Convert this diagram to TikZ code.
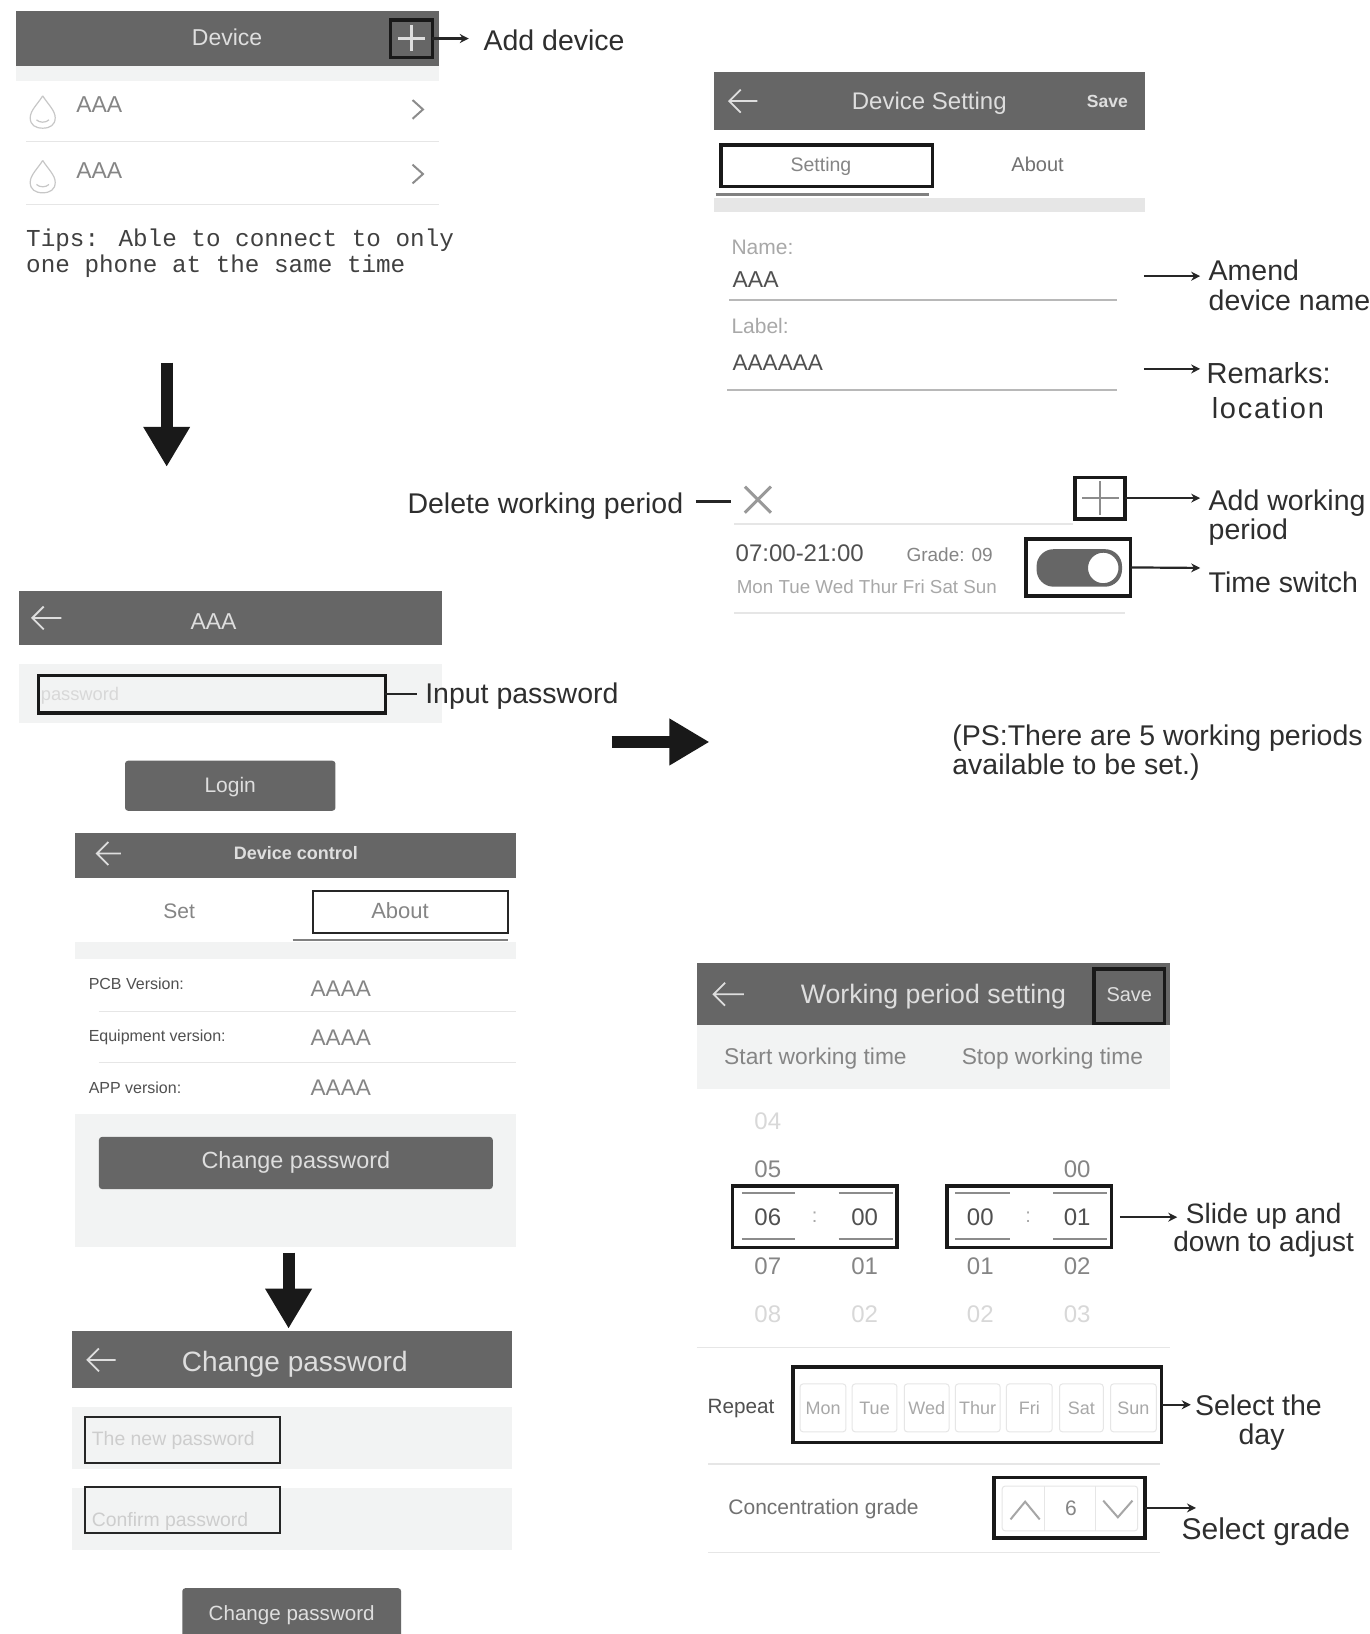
\documentclass[tikz,border=0pt]{standalone}
\usepackage{fontspec}
\setmainfont{Liberation Sans}
\newfontfamily\monof{Liberation Mono}
\usetikzlibrary{arrows.meta}
\definecolor{hdr}{HTML}{666666}
\definecolor{band}{HTML}{F2F3F3}
\definecolor{sepl}{HTML}{E6E6E6}
\definecolor{ink}{HTML}{2E2E2E}
\definecolor{wtxt}{HTML}{DEDEDE}
\definecolor{midt}{HTML}{858585}
\definecolor{lowt}{HTML}{A8A8A8}
\definecolor{faint}{HTML}{D8D8D8}
\definecolor{darkt}{HTML}{505050}
\newcommand\fs[1]{\fontsize{#1}{#1}\selectfont}
% \ubox{style}{name}{x1}{y1}{x2}{y2}{text}
\newcommand\ubox[7]{%
  \pgfmathsetmacro\uw{(#5-#3)*1.0418}%
  \pgfmathsetmacro\uh{(#6-#4)*1.0421}%
  \pgfmathsetmacro\ucx{(#3+#5)/2}%
  \pgfmathsetmacro\ucy{(#4+#6)/2}%
  \node[inner sep=0pt,outer sep=0pt,minimum width=\uw pt,minimum height=\uh pt,#1] (#2) at (\ucx,\ucy) {#7};}
\newcommand\backarr[3]{%
  \draw[backa] (#2,#3) -- (#1,#3) ++(11,-11) -- (#1,#3) -- ++(11,11);}
\tikzset{
  x=1.0418pt, y=-1.0421pt,
  fz/.style={font=\fs{#1},yshift={-(0.36*#1-3)*1pt}},
  fzb/.style={font=\bfseries\fs{#1},yshift={-(0.36*#1-3)*1pt}},
  fzm/.style={font=\monof\fs{#1},yshift={-(0.36*#1-3.5)*1pt}},
  header/.style={fill=hdr},
  bandbox/.style={fill=band},
  blackbox/.style={draw=black!90,line width=3.5pt},
  thinbox/.style={draw=black!85,line width=2pt},
  btn/.style={fill=hdr,rounded corners=3pt},
  cell/.style={draw=sepl,line width=1pt,rounded corners=3pt},
  conn/.style={draw=black!85,line width=2.2pt,-{Stealth[length=9pt,width=9pt]}},
  plainconn/.style={draw=black!85,line width=2.5pt},
  bigarrow/.style={draw=black!90,line width=12pt,-{Triangle[length=40pt,width=44pt]}},
  backa/.style={draw=wtxt,line width=1.8pt},
  sep/.style={draw=sepl,line width=1.5pt},
  fieldline/.style={draw=black!28,line width=2pt},
  tabline/.style={draw=black!50,line width=3pt},
  drop/.style={draw=black!22,line width=1.2pt},
  chev/.style={draw=black!45,line width=2pt},
  glyph/.style={draw=black!45,line width=2pt},
  callout/.style={anchor=mid west,inner sep=0pt,text=ink,fz=#1},
  callout/.default=28.5,
  calloutc/.style={anchor=mid,inner sep=0pt,text=ink,fz=#1},
  calloutc/.default=28.5,
  txtw/.style={anchor=mid west,inner sep=0pt},
  txtc/.style={anchor=mid,inner sep=0pt},
}
\begin{document}
\begin{tikzpicture}
\useasboundingbox (0,0) rectangle (1315,1568);
\fill[white] (0,0) rectangle (1315,1568);

%% ---------- Panel 1: Device
\ubox{header}{hdrA}{15}{11}{421}{63}{}
\ubox{fill=band}{bandA}{15}{63}{421}{78}{}
\node[txtc,text=wtxt,fz=23] (tDevice) at (218,36) {Device};
\ubox{blackbox}{addbox}{375}{19}{415}{55}{}
\draw[draw=wtxt,line width=3pt] (395,24) -- (395,49) (382,36.5) -- (408,36.5);
\coordinate (addEnd) at (450,37);
\draw[conn] (addbox.east) -- (addEnd);
\node[callout] (lAdd) at (464,39) {Add device};
% rows
\foreach \yy/\nm in {108/a,170/b}{
  \draw[drop] (41,\yy-16) .. controls (36,\yy-8) and (29,\yy-2) .. (29,\yy+5)
     .. controls (29,\yy+12) and (34,\yy+15) .. (41,\yy+15)
     .. controls (48,\yy+15) and (53,\yy+12) .. (53,\yy+5)
     .. controls (53,\yy-2) and (46,\yy-8) .. (41,\yy-16);
  \draw[drop] (35,\yy+7) .. controls (38,\yy+10) and (44,\yy+10) .. (47,\yy+7);
}
\node[txtw,text=midt,fz=23] (r1) at (73,100) {AAA};
\node[txtw,text=midt,fz=23] (r2) at (73,164) {AAA};
\draw[chev] (396,96) -- (406,105) -- (396,114);
\draw[chev] (396,158) -- (406,167) -- (396,176);
\draw[sep] (25,136) -- (421,136);
\draw[sep] (25,196) -- (421,196);
\node[txtw,text=darkt!80!black,fzm=24.3] (tip1) at (25,229) {Tips: Able to connect to only};
\node[txtw,text=darkt!80!black,fzm=24.3] (tip2) at (25,254) {one phone at the same time};

%% big arrows
\coordinate (b1s) at (160,348); \coordinate (b1e) at (160,448);
\draw[bigarrow] (b1s) -- (b1e);
\coordinate (b2s) at (587,712); \coordinate (b2e) at (681,712);
\draw[bigarrow] (b2s) -- (b2e);
\coordinate (b3s) at (277,1202); \coordinate (b3e) at (277,1275);
\draw[bigarrow] (b3s) -- (b3e);

%% ---------- Panel 2: login
\ubox{header}{hdrB}{18}{567}{424}{619}{}
\backarr{31}{59}{593}
\node[txtc,text=wtxt,fz=23] (tAAA) at (205,596) {AAA};
\ubox{fill=band}{bandB}{18}{637}{424}{694}{}
\node[txtw,text=faint,fz=18.3] (tPw) at (39,666) {password};
\ubox{blackbox}{pwbox}{37}{648}{370}{684}{}
\coordinate (pwEnd) at (400,666);
\draw[plainconn] (pwbox.east) -- (pwEnd);
\node[callout] (lPw) at (408,666) {Input password};
\ubox{btn}{login}{120}{730}{322}{778}{}
\node[txtc,text=wtxt,fz=21] (tLogin) at (221,754) {Login};

%% ---------- Panel 3: device control
\ubox{header}{hdrC}{72}{799}{495}{843}{}
\backarr{93}{116}{819}
\node[txtc,text=wtxt,fzb=18] (tCtl) at (284,819) {Device control};
\node[txtc,text=midt,fz=21] (tSet) at (172,874) {Set};
\ubox{thinbox}{aboutbox}{300}{855}{488}{895}{}
\node[txtc,text=midt,fz=22] (tAbout) at (384,874) {About};
\ubox{fill=band}{bandC}{72}{904}{495}{920}{}
\draw[draw=black!50,line width=2.5pt] (281,902) -- (488,902);
\node[txtw,text=darkt,fz=16] (v1) at (85,944) {PCB Version:};
\node[txtw,text=darkt,fz=16] (v2) at (85,994) {Equipment version:};
\node[txtw,text=darkt,fz=16] (v3) at (85,1044) {APP version:};
\node[txtw,text=midt,fz=22.6] (a1) at (298,949) {AAAA};
\node[txtw,text=midt,fz=22.6] (a2) at (298,996) {AAAA};
\node[txtw,text=midt,fz=22.6] (a3) at (298,1044) {AAAA};
\draw[draw=sepl,line width=1pt] (95,971) -- (495,971) (95,1020) -- (495,1020);
\ubox{fill=band}{bandC2}{72}{1069}{495}{1197}{}
\ubox{btn}{chgbtn}{95}{1091}{473}{1141}{}
\node[txtc,text=wtxt,fz=23.4] (tChg) at (284,1114) {Change password};

%% ---------- Panel 4: change password
\ubox{header}{hdrD}{69}{1277}{491}{1332}{}
\backarr{84}{111}{1305}
\node[txtc,text=wtxt,fz=28] (tChg2) at (283,1307) {Change password};
\ubox{fill=band}{bandD1}{69}{1350}{491}{1410}{}
\ubox{fill=band}{bandD2}{69}{1428}{491}{1487}{}
\node[txtw,text=faint!95!black,fz=19.4] (tNew) at (88,1381) {The new password};
\node[txtw,text=faint!95!black,fz=19.4] (tCon) at (88,1458) {Confirm password};
\ubox{thinbox}{newbox}{82}{1360}{269}{1404}{}
\ubox{thinbox}{conbox}{82}{1427}{269}{1471}{}
\ubox{btn}{chgbtn2}{175}{1524}{385}{1580}{}
\node[txtc,text=wtxt,fz=20.6] (tChg3) at (280,1548) {Change password};

%% ---------- Panel 5: device setting
\ubox{header}{hdrE}{685}{69}{1099}{125}{}
\backarr{700}{727}{97}
\node[txtc,text=wtxt,fz=24] (tDS) at (892,97) {Device Setting};
\node[txtc,text=wtxt,fzb=17.5] (tSave) at (1063,97) {Save};
\ubox{blackbox}{settingbox}{692}{139}{895}{179}{}
\node[txtc,text=midt,fz=19.5] (tSetting) at (788,158) {Setting};
\node[txtc,text=midt!85!black,fz=20] (tAb2) at (996,158) {About};
\ubox{fill=sepl}{bandE}{685}{190}{1099}{203}{}
\draw[tabline] (687,187) -- (892,187);
\node[txtw,text=lowt,fz=21] (tName) at (702,237) {Name:};
\node[txtw,text=darkt,fz=23] (tNameV) at (703,268) {AAA};
\draw[fieldline] (700,288) -- (1072,288);
\node[txtw,text=lowt,fz=21] (tLabel) at (702,313) {Label:};
\node[txtw,text=darkt,fz=22.6] (tLabV) at (703,348) {AAAAAA};
\draw[fieldline] (698,374) -- (1072,374);
\coordinate (amS) at (1098,265); \coordinate (amE) at (1152,265);
\draw[conn] (amS) -- (amE);
\node[callout] (lAm1) at (1160,260) {Amend};
\node[callout] (lAm2) at (1160,288) {device name};
\coordinate (reS) at (1098,354); \coordinate (reE) at (1152,354);
\draw[conn] (reS) -- (reE);
\node[callout=29] (lRe1) at (1158,358) {Remarks:};
\node[callout=29] (lRe2) at (1163,392) {\addfontfeature{LetterSpace=6}location};

%% working periods
\node[callout] (lDel) at (391,483) {Delete working period};
\coordinate (delS) at (668,481); \coordinate (delE) at (702,481);
\draw[plainconn] (delS) -- (delE);
\draw[draw=black!40,line width=3pt] (715,467) -- (740,492) (740,467) -- (715,492);
\ubox{blackbox}{plusbox}{1032}{458}{1080}{498}{}
\draw[glyph] (1056,462) -- (1056,494) (1039,478) -- (1074,478);
\coordinate (plE) at (1152,478);
\draw[conn] (plusbox.east) -- (plE);
\node[callout] (lPl1) at (1160,480) {Add working};
\node[callout] (lPl2) at (1160,508) {period};
\draw[sep] (705,503) -- (1030,503);
\node[txtw,text=darkt,fz=24] (tTime) at (706,531) {07:00-21:00};
\node[txtw,text=midt,fz=19] (tGrade) at (870,533) {Grade: 09};
\node[txtw,text=lowt,fz=18.8] (tDays) at (707,563) {Mon Tue Wed Thur Fri Sat Sun};
\ubox{blackbox}{swbox}{985}{517}{1085}{572}{}
\ubox{fill=hdr,rounded corners=17pt}{swtrack}{995}{527}{1077}{563}{}
\draw[fill=white,draw=hdr,line width=1.5pt] (1059,545) circle[radius=16pt];
\coordinate (swE) at (1152,545);
\draw[conn] (swbox.east) -- (swE);
\node[callout] (lSw) at (1160,559) {Time switch};
\draw[sep] (705,588) -- (1080,588);
\node[callout] (lPs1) at (914,706) {(PS:There are 5 working periods};
\node[callout] (lPs2) at (914,734) {available to be set.)};

%% ---------- Panel 6: working period setting
\ubox{header}{hdrF}{669}{924}{1123}{984}{}
\backarr{685}{714}{954}
\node[txtc,text=wtxt,fz=26.7] (tWP) at (896,954) {Working period setting};
\ubox{blackbox}{savebox}{1050}{930}{1118}{982}{}
\node[txtc,text=wtxt,fz=20] (tSave2) at (1084,954) {Save};
\ubox{fill=band}{bandF}{669}{984}{1123}{1045}{}
\node[txtw,text=midt,fz=22.8] (tStart) at (695,1014) {Start working time};
\node[txtw,text=midt,fz=22.8] (tStop) at (923,1014) {Stop working time};
\foreach \xx/\yy/\cc/\tt in {737/1076/faint/04,
  737/1122/midt/05, 1034/1122/midt/00,
  737/1168/darkt/06, 830/1168/darkt/00, 941/1168/darkt/00, 1034/1168/darkt/01,
  737/1215/midt/07, 830/1215/midt/01, 941/1215/midt/01, 1034/1215/midt/02,
  737/1261/faint/08, 830/1261/faint/02, 941/1261/faint/02, 1034/1261/faint/03}{
  \node[txtc,text=\cc,fz=24] at (\xx,\yy) {\tt};
}
\node[txtc,text=lowt,fz=20] (col1) at (782,1167) {:};
\node[txtc,text=lowt,fz=20] (col2) at (987,1167) {:};
\ubox{blackbox}{tbox1}{703}{1138}{861}{1197}{}
\ubox{blackbox}{tbox2}{909}{1138}{1067}{1197}{}
\draw[draw=black!45,line width=2pt] (712,1145) -- (763,1145) (805,1145) -- (857,1145)
  (712,1189) -- (763,1189) (805,1189) -- (857,1189)
  (917,1145) -- (969,1145) (1011,1145) -- (1063,1145)
  (917,1189) -- (969,1189) (1011,1189) -- (1063,1189);
\coordinate (slS) at (1075,1168); \coordinate (slE) at (1130,1168);
\draw[conn] (slS) -- (slE);
\node[calloutc=28] (lSl1) at (1213,1165) {Slide up and};
\node[calloutc=28] (lSl2) at (1213,1192) {down to adjust};
\draw[sep] (669,1293) -- (1123,1293);
\node[txtw,text=darkt,fz=20.7] (tRep) at (679,1350) {Repeat};
\ubox{blackbox}{daybox}{761}{1312}{1115}{1384}{}
\foreach \a/\b/\t in {768/812/Mon,818/861/Tue,868/911/Wed,917/960/Thur,966/1010/Fri,1017/1059/Sat,1066/1110/Sun}{
  \ubox{cell}{cell\t}{\a}{1328}{\b}{1374}{}
  \node[txtc,text=lowt,fz=18] at (cell\t.center) {\t};
}
\coordinate (dayE) at (1143,1348);
\draw[conn] (daybox.east) -- (dayE);
\node[calloutc] (lDay1) at (1208,1349) {Select the};
\node[calloutc] (lDay2) at (1211,1377) {day};
\draw[sep] (680,1405) -- (1113,1405);
\node[txtw,text=midt!85!black,fz=21] (tConc) at (699,1446) {Concentration grade};
\ubox{blackbox}{grbox}{954}{1418}{1099}{1476}{}
\ubox{cell}{grinner}{962}{1426}{1092}{1469}{}
\draw[draw=sepl,line width=1pt] (1003,1426) -- (1003,1469) (1052,1426) -- (1052,1469);
\draw[draw=black!35,line width=2pt] (970,1458) -- (984,1441) -- (998,1458);
\draw[draw=black!35,line width=2pt] (1059,1440) -- (1073,1456) -- (1087,1440);
\node[txtc,text=midt,fz=21] (tSix) at (1028,1447) {6};
\coordinate (grE) at (1148,1447);
\draw[conn] (grbox.east) -- (grE);
\node[callout=30] (lGr) at (1134,1467) {Select grade};
\draw[sep] (680,1490) -- (1113,1490);
\end{tikzpicture}
\end{document}
